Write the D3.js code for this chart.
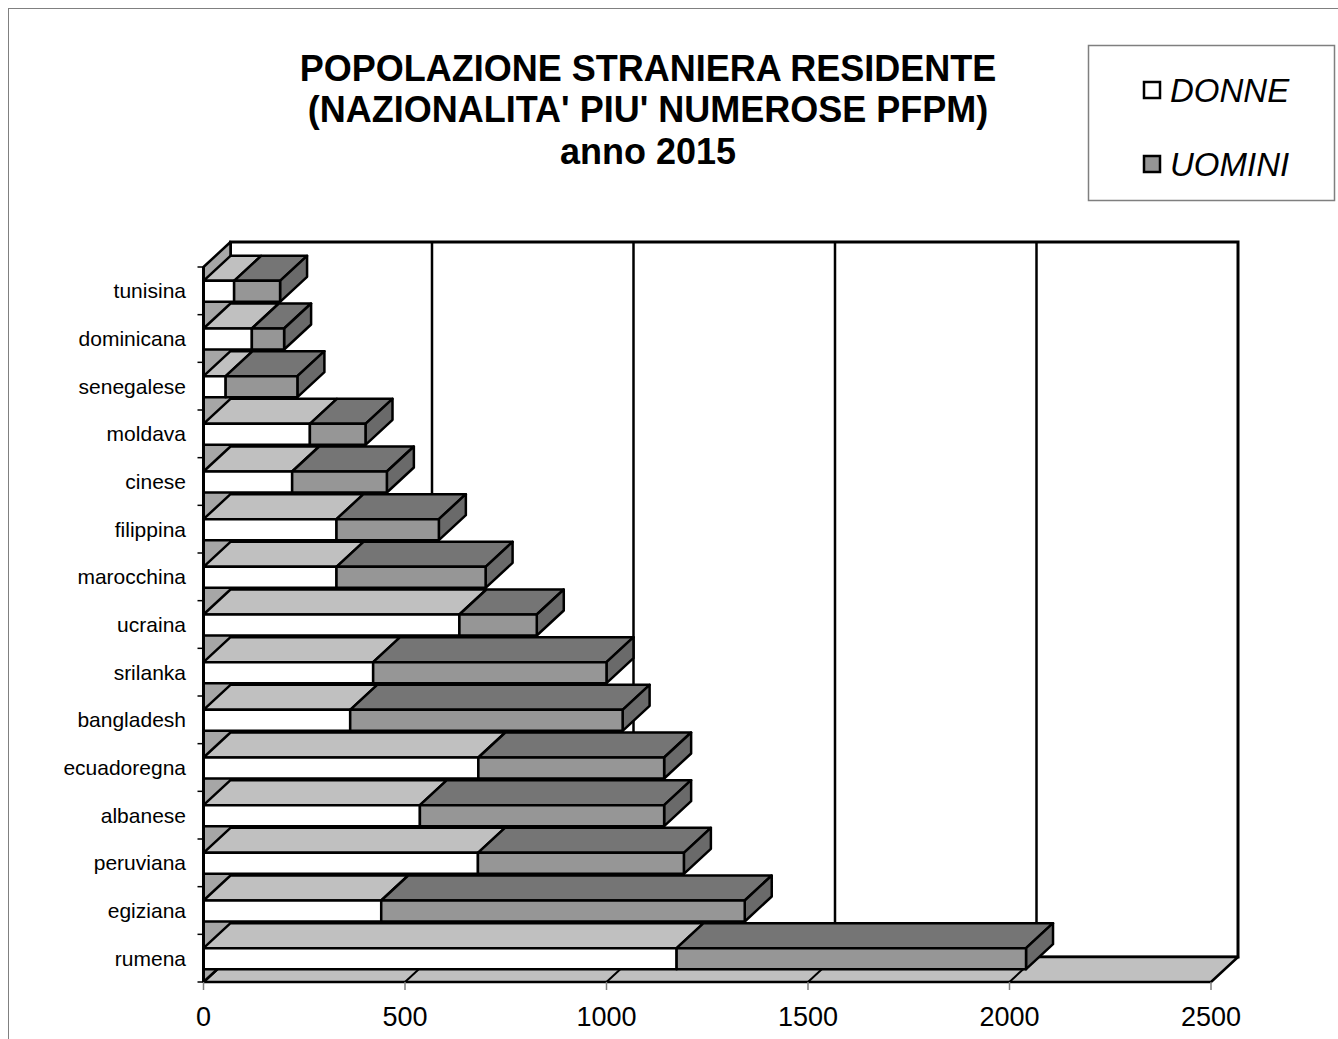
<!DOCTYPE html>
<html>
<head>
<meta charset="utf-8">
<script src="https://cdn.jsdelivr.net/npm/d3@7"></script>
<style>
  body { margin: 0; background: #fff; }
  svg { display: block; font-family: "Liberation Sans", Arial, sans-serif; }
</style>
</head>
<body>
<svg id="chart" width="1338" height="1039"></svg>
<script>

// Data (top to bottom as in the chart)
var categories = ['tunisina', 'dominicana', 'senegalese', 'moldava', 'cinese', 'filippina',
  'marocchina', 'ucraina', 'srilanka', 'bangladesh', 'ecuadoregna', 'albanese',
  'peruviana', 'egiziana', 'rumena'];
var donne  = [76, 120, 55, 264, 220, 330, 330, 635, 421, 364, 682, 537, 681, 441, 1174];
var uomini = [114, 80, 178, 138, 235, 254, 370, 192, 579, 676, 461, 606, 511, 902, 867];
var seriesNames = ['DONNE', 'UOMINI'];
var xTicks = [0, 500, 1000, 1500, 2000, 2500];
var titleLines = ['POPOLAZIONE STRANIERA RESIDENTE', "(NAZIONALITA' PIU' NUMEROSE PFPM)", 'anno 2015'];

var vars = {
  left: 203.5, right: 1211,
  top: 267, bottom: 982,
  dx: 27, dy: -25,
  barH: 21,
  colors: {
    DONNE: {front: '#ffffff', top: '#c0c0c0', side: '#a0a0a0'},
    UOMINI: {front: '#969696', top: '#757575', side: '#6a6a6a'}
  }
};

var svg = d3.select('#chart');

var xScale = d3.scaleLinear().domain([0, 2500]).range([vars.left, vars.right]);
var yScale = d3.scaleBand().domain(categories).range([vars.top, vars.bottom]).padding(0);

function pts(arr) { return arr.map(function(p) { return p.join(','); }).join(' '); }

// outer frame
svg.append('rect')
  .attr('x', 8.5).attr('y', 8.5).attr('width', 1340).attr('height', 1040)
  .attr('fill', 'none').attr('stroke', '#808080').attr('stroke-width', 1);

// title
svg.append('g').selectAll('text').data(titleLines)
  .enter()
    .append('text')
    .attr('x', 648)
    .attr('y', function(d, i) { return [81, 122, 164][i]; })
    .attr('text-anchor', 'middle')
    .attr('font-weight', 'bold')
    .attr('font-size', 36)
    .text(function(d) { return d; });

// back wall
var g = svg.append('g');
g.append('rect')
  .attr('x', vars.left + vars.dx).attr('y', vars.top + vars.dy)
  .attr('width', vars.right - vars.left).attr('height', vars.bottom - vars.top)
  .attr('fill', '#fff').attr('stroke', '#000').attr('stroke-width', 3);

g.selectAll('.grid').data(xTicks.slice(1, -1))
  .enter()
    .append('line')
    .attr('class', 'grid')
    .attr('x1', function(d) { return xScale(d) + vars.dx; })
    .attr('x2', function(d) { return xScale(d) + vars.dx; })
    .attr('y1', vars.top + vars.dy)
    .attr('y2', vars.bottom + vars.dy)
    .attr('stroke', '#000').attr('stroke-width', 2.5);

// floor
g.append('polygon')
  .attr('points', pts([[vars.left, vars.bottom], [vars.right, vars.bottom],
    [vars.right + vars.dx, vars.bottom + vars.dy], [vars.left + vars.dx, vars.bottom + vars.dy]]))
  .attr('fill', '#c0c0c0').attr('stroke', '#000').attr('stroke-width', 2.5)
  .attr('stroke-linejoin', 'round');

g.selectAll('.floorgrid').data(xTicks.slice(1, -1))
  .enter()
    .append('line')
    .attr('class', 'floorgrid')
    .attr('x1', function(d) { return xScale(d); })
    .attr('x2', function(d) { return xScale(d) + vars.dx; })
    .attr('y1', vars.bottom)
    .attr('y2', vars.bottom + vars.dy)
    .attr('stroke', '#000').attr('stroke-width', 2);

// left wall
g.append('polygon')
  .attr('points', pts([[vars.left, vars.bottom], [vars.left, vars.top],
    [vars.left + vars.dx, vars.top + vars.dy], [vars.left + vars.dx, vars.bottom + vars.dy]]))
  .attr('fill', '#a6a6a6').attr('stroke', '#000').attr('stroke-width', 2.5)
  .attr('stroke-linejoin', 'round');

// bars
var rows = categories.map(function(c, i) {
  return {cat: c, segs: [
    {name: 'DONNE', x0: 0, x1: donne[i]},
    {name: 'UOMINI', x0: donne[i], x1: donne[i] + uomini[i]}
  ]};
});

var bars = g.selectAll('.bar').data(rows)
  .enter()
    .append('g')
    .attr('class', 'bar');

bars.each(function(row) {
  var sel = d3.select(this);
  var yc = yScale(row.cat) + yScale.bandwidth() / 2 + 0.5;
  var yt = yc - vars.barH / 2, yb = yc + vars.barH / 2;
  row.segs.forEach(function(s, j) {
    var a = xScale(s.x0), b = xScale(s.x1);
    var col = vars.colors[s.name];
    sel.append('polygon')
      .attr('points', pts([[a, yt], [b, yt], [b + vars.dx, yt + vars.dy], [a + vars.dx, yt + vars.dy]]))
      .attr('fill', col.top);
    if (j === row.segs.length - 1) {
      sel.append('polygon')
        .attr('points', pts([[b, yt], [b, yb], [b + vars.dx, yb + vars.dy], [b + vars.dx, yt + vars.dy]]))
        .attr('fill', col.side);
    }
    sel.append('rect')
      .attr('x', a).attr('y', yt).attr('width', b - a).attr('height', vars.barH)
      .attr('fill', col.front);
  });
  sel.selectAll('polygon, rect')
    .attr('stroke', '#000').attr('stroke-width', 2.5).attr('stroke-linejoin', 'round');
});

// category axis
var yAxisG = svg.append('g');
yAxisG.append('line')
  .attr('x1', vars.left).attr('x2', vars.left)
  .attr('y1', vars.top).attr('y2', vars.bottom)
  .attr('stroke', '#000').attr('stroke-width', 3);

yAxisG.selectAll('.ytick').data(categories.concat(['end']))
  .enter()
    .append('line')
    .attr('class', 'ytick')
    .attr('x1', vars.left - 6).attr('x2', vars.left)
    .attr('y1', function(d, i) { return vars.top + i * yScale.bandwidth(); })
    .attr('y2', function(d, i) { return vars.top + i * yScale.bandwidth(); })
    .attr('stroke', '#000').attr('stroke-width', 1.5);

yAxisG.selectAll('.ylabel').data(categories)
  .enter()
    .append('text')
    .attr('class', 'ylabel')
    .attr('x', 186)
    .attr('y', function(d) { return yScale(d) + yScale.bandwidth() / 2; })
    .attr('text-anchor', 'end')
    .attr('dominant-baseline', 'central')
    .attr('font-size', 21)
    .text(function(d) { return d; });

// value axis
var xAxisG = svg.append('g');
xAxisG.selectAll('.xtick').data(xTicks)
  .enter()
    .append('line')
    .attr('class', 'xtick')
    .attr('x1', function(d) { return xScale(d); })
    .attr('x2', function(d) { return xScale(d); })
    .attr('y1', vars.bottom).attr('y2', vars.bottom + 8)
    .attr('stroke', '#808080').attr('stroke-width', 1.5);

xAxisG.selectAll('.xlabel').data(xTicks)
  .enter()
    .append('text')
    .attr('class', 'xlabel')
    .attr('x', function(d) { return xScale(d); })
    .attr('y', 1026)
    .attr('text-anchor', 'middle')
    .attr('font-size', 27)
    .text(function(d) { return d; });

// legend
var legend = svg.append('g');
legend.append('rect')
  .attr('x', 1088.5).attr('y', 45.5).attr('width', 246).attr('height', 155)
  .attr('fill', '#fff').attr('stroke', '#7f7f7f').attr('stroke-width', 1.5);

var items = legend.selectAll('.item').data(seriesNames)
  .enter()
    .append('g')
    .attr('class', 'item')
    .attr('transform', function(d, i) { return 'translate(1144,' + [90, 164][i] + ')'; });

items.append('rect')
  .attr('x', 0).attr('y', -8).attr('width', 16).attr('height', 16)
  .attr('fill', function(d) { return vars.colors[d].front; })
  .attr('stroke', '#000').attr('stroke-width', 2.5);

items.append('text')
  .attr('x', 26).attr('y', 0)
  .attr('dominant-baseline', 'central')
  .attr('font-style', 'italic')
  .attr('font-size', 33)
  .text(function(d) { return d; });

</script>
</body>
</html>
